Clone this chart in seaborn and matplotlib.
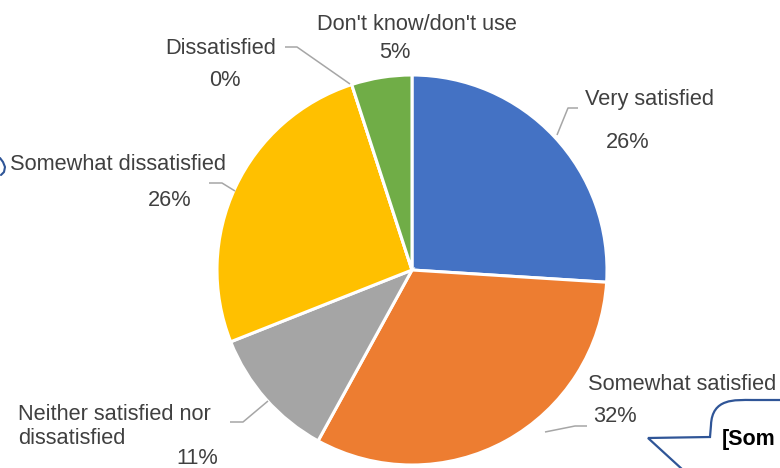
import matplotlib
matplotlib.use("Agg")
import matplotlib.pyplot as plt
from matplotlib.path import Path
from matplotlib.patches import PathPatch
import seaborn as sns

sns.set_theme(style="white")
plt.rcParams["font.family"] = ["Liberation Sans", "DejaVu Sans"]

# Satisfaction survey shares (percent), in clockwise order from 12 o'clock
categories = ["Very satisfied", "Somewhat satisfied",
              "Neither satisfied nor\ndissatisfied", "Somewhat dissatisfied",
              "Dissatisfied", "Don't know/don't use"]
values = [26, 32, 11, 26, 0, 5]
colors = ["#4472C4", "#ED7D31", "#A5A5A5", "#FFC000", "#5B9BD5", "#70AD47"]

W, H = 780, 468
fig = plt.figure(figsize=(W / 100, H / 100), dpi=100)
ax = fig.add_axes([0, 0, 1, 1])


def Y(y):
    # pixel row measured from the top -> axes y
    return H - y


cx, cy, r = 412, 270, 195
ax.pie(values, colors=colors, startangle=90, counterclock=False,
       center=(cx, Y(cy)), radius=r,
       wedgeprops=dict(edgecolor="white", linewidth=2.2), frame=True)
ax.set_xlim(0, W)
ax.set_ylim(0, H)
ax.set_aspect("equal")
ax.axis("off")

txt = dict(color="#404040", fontsize=15.7)
lead = dict(color="#A6A6A6", lw=1.1, solid_capstyle="butt")
line_step = 24  # pixel distance between wrapped label lines

# (first-line position of category text, percent text position, leader polyline)
layout = [
    ((585, 100), (628, 142), [(557, 135), (568, 108), (578, 108)]),
    ((588, 385), (615, 416), [(545, 432), (575, 426), (587, 426)]),
    ((18, 415), (197, 458), [(268, 401), (243, 422), (230, 422)]),
    ((10, 165), (170, 200), [(235, 191), (222, 183), (209, 183)]),
    ((165, 48), (225, 80), [(350, 84), (297, 47), (285, 47)]),
    ((317, 24), (395, 53), None),
]

for name, val, (lab, pct, line) in zip(categories, values, layout):
    for i, part in enumerate(name.split("\n")):
        ax.text(lab[0], Y(lab[1] + i * line_step), part,
                ha="left", va="center", **txt)
    ax.text(pct[0], Y(pct[1]), f"{val}%", ha="center", va="center", **txt)
    if line:
        ax.plot([p[0] for p in line], [Y(p[1]) for p in line], **lead)

# Callout bubble partly off the right edge
verts = [(683, 470), (648, 438), (710, 437), (711, 425),
         (712, 398), (735, 400), (752, 400), (790, 400)]
codes = [Path.MOVETO, Path.LINETO, Path.LINETO, Path.LINETO,
         Path.CURVE4, Path.CURVE4, Path.CURVE4, Path.LINETO]
bubble = Path([(x, Y(y)) for x, y in verts], codes)
ax.add_patch(PathPatch(bubble, facecolor="none", edgecolor="#2F5597", lw=1.6))
ax.text(722, Y(440), "[Som", ha="left", va="center", fontsize=15.5,
        fontweight="bold", color="black")

# Edge of a shape at the left border
ax.plot([0, 3, 5, 4, 1], [Y(158), Y(162), Y(167), Y(172), Y(175)],
        color="#2F5597", lw=1.5)

fig.savefig("out.png", dpi=100)
